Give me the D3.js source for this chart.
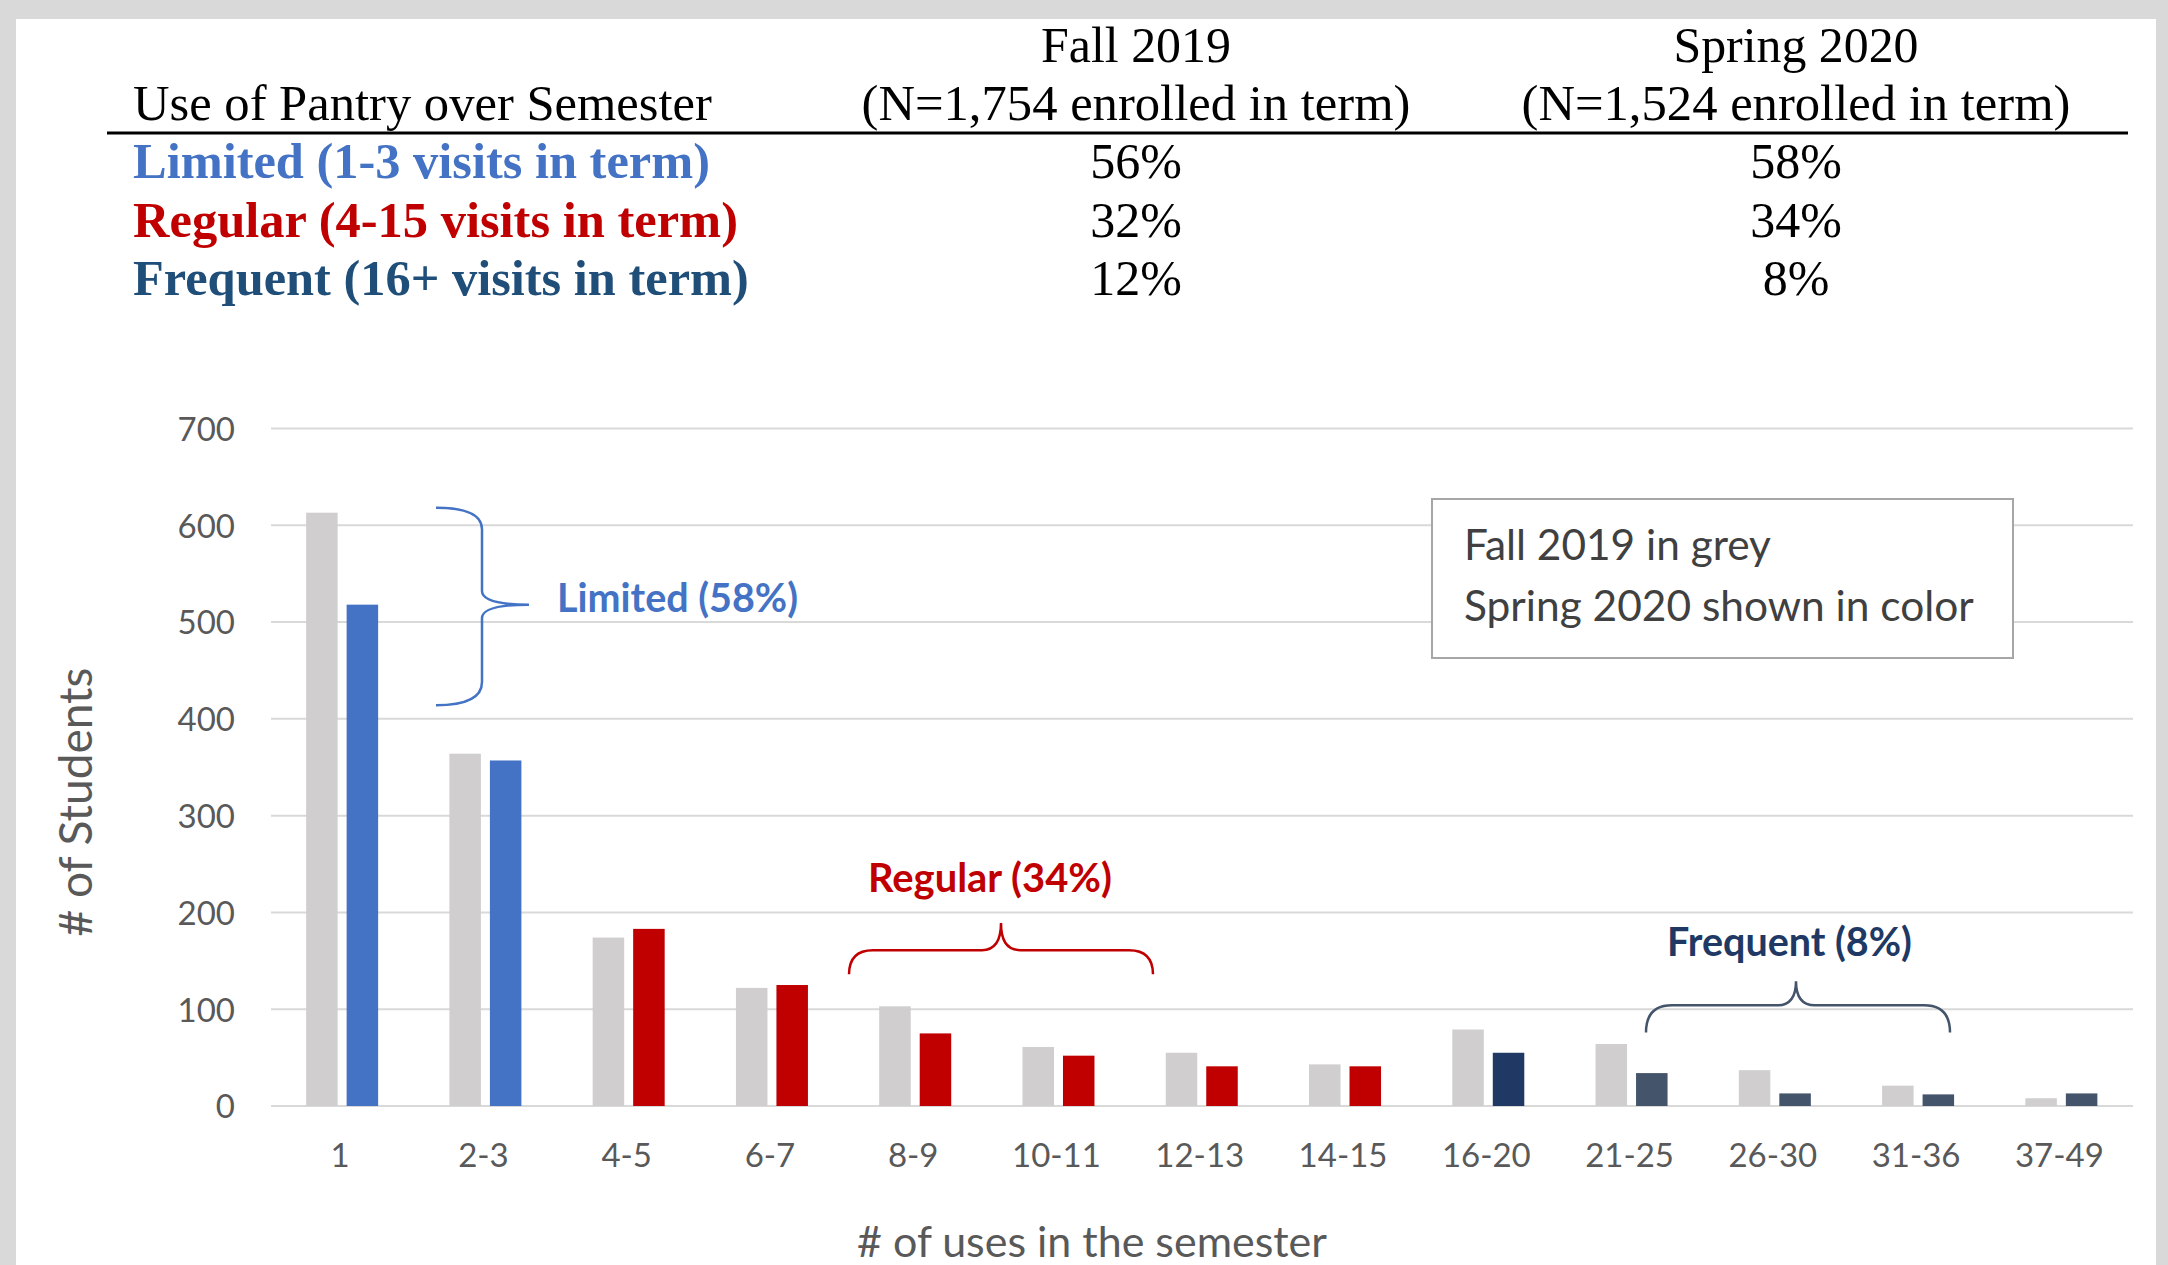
<!DOCTYPE html>
<html><head><meta charset="utf-8">
<script src="https://cdn.jsdelivr.net/npm/d3@7"></script>
<style>html,body{margin:0;padding:0;background:#d9d9d9;overflow:hidden} svg{display:block}</style>
</head><body>
<svg id="c" width="2168" height="1265"></svg>
<script>
// ---------------- data ----------------
const categories = ["1","2-3","4-5","6-7","8-9","10-11","12-13","14-15","16-20","21-25","26-30","31-36","37-49"];
const fall2019   = [613, 364, 174, 122, 103, 61, 55, 43, 79, 64, 37, 21, 8];
const spring2020 = [518, 357, 183, 125, 75, 52, 41, 41, 55, 34, 13, 12, 13];
const usageGroup = ["Limited","Limited","Regular","Regular","Regular","Regular","Regular","Regular","Frequent16","Frequent","Frequent","Frequent","Frequent"];
const yTicks = [0, 100, 200, 300, 400, 500, 600, 700];
const tableHead = ["Use of Pantry over Semester", "Fall 2019", "(N=1,754 enrolled in term)", "Spring 2020", "(N=1,524 enrolled in term)"];
const rowLabels = ["Limited (1-3 visits in term)", "Regular (4-15 visits in term)", "Frequent (16+ visits in term)"];
const fallShares = ["56%", "32%", "12%"];
const springShares = ["58%", "34%", "8%"];
const bracketLabels = ["Limited (58%)", "Regular (34%)", "Frequent (8%)"];
const legendLines = ["Fall 2019 in grey", "Spring 2020 shown in color"];
const yTitle = "# of Students";
const xTitle = "# of uses in the semester";

// ---------------- style ----------------
const colorMap = {Limited:"#4472C4", Regular:"#C00000", Frequent16:"#203864", Frequent:"#44546A"};
const rowColors = ["#4472C4", "#C00000", "#1F4E79"];
const greyBar = "#D0CECE";
const sans = "Lato, 'Open Sans', sans-serif";
const serif = "'Liberation Serif', 'Times New Roman', serif";

const svg = d3.select("#c");
function fit(sel, w){
  const n = sel.node(); const fs = parseFloat(sel.attr("font-size"));
  const cw = n.getComputedTextLength(); if (cw>0) sel.attr("font-size", (fs*w/cw).toFixed(2));
  return sel;
}

// page panel
svg.append("rect").attr("x",0).attr("y",0).attr("width",2168).attr("height",1265).attr("fill","#d9d9d9");
svg.append("rect").attr("x",16).attr("y",19).attr("width",2140).attr("height",1250).attr("fill","#ffffff");

// ---------------- table ----------------
const tbl = svg.append("g");
const colFall = 1136, colSpring = 1796, labelX = 133;
tbl.append("text").attr("x",labelX).attr("y",120).attr("font-family",serif).attr("font-size",50).attr("fill","#000").text(tableHead[0]).call(fit,579);
tbl.append("text").attr("x",colFall).attr("y",62).attr("text-anchor","middle").attr("font-family",serif).attr("font-size",50).text(tableHead[1]).call(fit,190);
tbl.append("text").attr("x",colFall).attr("y",120).attr("text-anchor","middle").attr("font-family",serif).attr("font-size",50).text(tableHead[2]).call(fit,549);
tbl.append("text").attr("x",colSpring).attr("y",62).attr("text-anchor","middle").attr("font-family",serif).attr("font-size",50).text(tableHead[3]).call(fit,245);
tbl.append("text").attr("x",colSpring).attr("y",120).attr("text-anchor","middle").attr("font-family",serif).attr("font-size",50).text(tableHead[4]).call(fit,549);
tbl.append("line").attr("x1",107).attr("x2",2128).attr("y1",133).attr("y2",133).attr("stroke","#000").attr("stroke-width",3);
const rowY = [178, 237, 295];
const rowW = [577, 605, 616];
rowLabels.forEach((t,i)=>{
  tbl.append("text").attr("x",labelX).attr("y",rowY[i]).attr("font-family",serif).attr("font-weight","bold").attr("font-size",50).attr("fill",rowColors[i]).text(t).call(fit,rowW[i]);
  tbl.append("text").attr("x",colFall).attr("y",rowY[i]).attr("text-anchor","middle").attr("font-family",serif).attr("font-size",50).text(fallShares[i]);
  tbl.append("text").attr("x",colSpring).attr("y",rowY[i]).attr("text-anchor","middle").attr("font-family",serif).attr("font-size",50).text(springShares[i]);
});

// ---------------- chart ----------------
const y = d3.scaleLinear().domain([0,700]).range([1106, 428.5]);
const x = d3.scaleBand().domain(categories).range([270.5, 2133]).paddingInner(0).paddingOuter(0);
const x1 = d3.scaleBand().domain(["fall","spring"]).range([x.bandwidth()/2-36, x.bandwidth()/2+36]).paddingInner(0.222);

// gridlines
svg.append("g").selectAll("line").data(yTicks).join("line")
  .attr("x1",271).attr("x2",2133).attr("y1",d=>y(d)).attr("y2",d=>y(d))
  .attr("stroke","#d9d9d9").attr("stroke-width",2);

// y axis labels
const yAxis = svg.append("g").attr("transform","translate(271,0)")
  .call(d3.axisLeft(y).tickValues(yTicks).tickSize(0).tickPadding(36));
yAxis.select(".domain").remove();
yAxis.selectAll("text").attr("font-family",sans).attr("font-size",33).attr("fill","#595959").attr("dy","0.36em");

// x axis labels
const xAxis = svg.append("g").attr("transform","translate(-2,1106)")
  .call(d3.axisBottom(x).tickSize(0).tickPadding(38));
xAxis.select(".domain").remove();
xAxis.selectAll("text").attr("font-family",sans).attr("font-size",33).attr("fill","#595959");

// bars
const g = svg.append("g");
g.selectAll("rect.f").data(categories).join("rect").attr("class","f")
  .attr("x",(d)=>x(d)+x1("fall")).attr("width",x1.bandwidth())
  .attr("y",(d,i)=>y(fall2019[i])).attr("height",(d,i)=>y(0)-y(fall2019[i]))
  .attr("fill",greyBar);
g.selectAll("rect.s").data(categories).join("rect").attr("class","s")
  .attr("x",(d)=>x(d)+x1("spring")).attr("width",x1.bandwidth())
  .attr("y",(d,i)=>y(spring2020[i])).attr("height",(d,i)=>y(0)-y(spring2020[i]))
  .attr("fill",(d,i)=>colorMap[usageGroup[i]]);

// axis titles
svg.append("text").attr("transform","translate(92,802) rotate(-90)").attr("text-anchor","middle")
  .attr("font-family",sans).attr("font-size",38).attr("fill","#595959").text(yTitle).call(fit,269);
svg.append("text").attr("x",1092).attr("y",1257).attr("text-anchor","middle")
  .attr("font-family",sans).attr("font-size",38).attr("fill","#595959").text(xTitle).call(fit,470);

// ---------------- annotations ----------------
const ann = svg.append("g").attr("fill","none").attr("stroke-width",2.5);
// Limited brace (vertical, pointing right)
ann.append("path").attr("stroke","#4472C4")
  .attr("d",`M436,${y(618)} Q482,${y(618)} 482,${y(596)} L482,${y(532)} Q482,${y(518)} 529,${y(518)} Q482,${y(518)} 482,${y(504)} L482,${y(438)} Q482,${y(414)} 436,${y(414)}`);
// Regular brace (horizontal, tip up)
ann.append("path").attr("stroke","#C00000")
  .attr("d",`M849,${y(136)} Q849,${y(161)} 873,${y(161)} L982,${y(161)} Q1001,${y(161)} 1001,${y(189)} Q1001,${y(161)} 1020,${y(161)} L1129,${y(161)} Q1153,${y(161)} 1153,${y(136)}`);
// Frequent brace
ann.append("path").attr("stroke","#44546A")
  .attr("d",`M1646,${y(76)} Q1646,${y(104)} 1672,${y(104)} L1777,${y(104)} Q1796,${y(104)} 1796,${y(129)} Q1796,${y(104)} 1815,${y(104)} L1924,${y(104)} Q1950,${y(104)} 1950,${y(76)}`);

const labelPos = [[557,612,241,"#4472C4"],[868,892,244,"#C00000"],[1667,956,245,"#203864"]];
bracketLabels.forEach((t,i)=>{
  svg.append("text").attr("x",labelPos[i][0]).attr("y",labelPos[i][1]).attr("font-family",sans).attr("font-weight","bold")
    .attr("font-size",35).attr("fill",labelPos[i][3]).text(t).call(fit,labelPos[i][2]);
});

// legend box
svg.append("rect").attr("x",1432).attr("y",499).attr("width",581).attr("height",159)
  .attr("fill","#fff").attr("stroke","#a6a6a6").attr("stroke-width",2);
svg.append("text").attr("x",1464).attr("y",560).attr("font-family",sans).attr("font-size",38).attr("fill","#404040").text(legendLines[0]).call(fit,307);
svg.append("text").attr("x",1464).attr("y",621).attr("font-family",sans).attr("font-size",38).attr("fill","#404040").text(legendLines[1]).call(fit,510);
</script>
</body></html>
